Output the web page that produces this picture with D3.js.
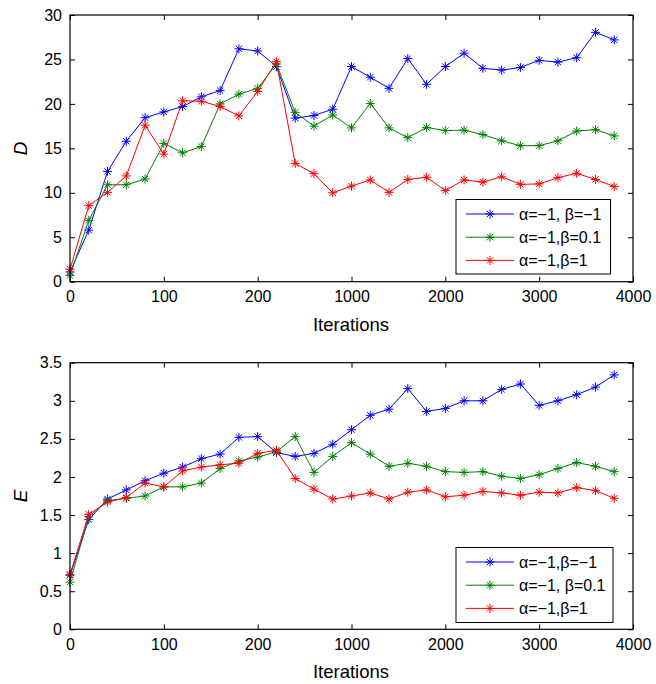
<!DOCTYPE html>
<html>
<head>
<meta charset="utf-8">
<script src="https://cdn.jsdelivr.net/npm/d3@7"></script>
<style>
  body { margin: 0; background: #fff; }
  svg text { font-family: "Liberation Sans", Arial, sans-serif; fill: #000; }
</style>
</head>
<body>
<svg id="chart" width="656" height="684"></svg>
<script>
// x positions are sample indices; tick labels come from the original figure
const xTickIdx = [0, 5, 10, 15, 20, 25, 30]
const xTickLabels = ["0", "100", "200", "1000", "2000", "3000", "4000"]

const colors = ["#0000ff", "#008000", "#ff0000"]

// panel D
const dBlue = [1.1, 5.8, 12.4, 15.8, 18.45, 19.1, 19.7, 20.8, 21.5, 26.2, 25.95, 24.2, 18.4, 18.7, 19.4,
  24.2, 23.0, 21.75, 25.1, 22.2, 24.2, 25.7, 24.0, 23.8, 24.1, 24.9, 24.7, 25.2, 28.05, 27.2]
const dGreen = [0.7, 6.9, 10.9, 10.9, 11.55, 15.55, 14.5, 15.2, 20.0, 21.1, 21.75, 24.5, 19.05, 17.5, 18.75,
  17.3, 20.05, 17.3, 16.2, 17.35, 17.0, 17.05, 16.55, 15.85, 15.3, 15.3, 15.85, 16.95, 17.1, 16.4]
const dRed = [1.4, 8.55, 10.05, 11.9, 17.6, 14.35, 20.35, 20.3, 19.7, 18.65, 21.4, 24.75, 13.3, 12.15, 10.0,
  10.75, 11.45, 10.05, 11.5, 11.75, 10.25, 11.45, 11.2, 11.8, 10.95, 11.0, 11.7, 12.2, 11.5, 10.7]
const dLegend = ["α=−1, β=−1", "α=−1,β=0.1", "α=−1,β=1"]
const dTicks = [0, 5, 10, 15, 20, 25, 30]

// panel E
const eBlue = [0.71, 1.44, 1.71, 1.83, 1.95, 2.05, 2.13, 2.24, 2.30, 2.52, 2.53, 2.32, 2.27, 2.31, 2.43,
  2.62, 2.81, 2.89, 3.16, 2.86, 2.90, 3.0, 3.0, 3.15, 3.22, 2.94, 3.0, 3.08, 3.18, 3.34]
const eGreen = [0.62, 1.48, 1.69, 1.72, 1.75, 1.87, 1.87, 1.92, 2.11, 2.21, 2.26, 2.33, 2.53, 2.06, 2.27,
  2.45, 2.30, 2.14, 2.18, 2.14, 2.07, 2.06, 2.07, 2.01, 1.98, 2.03, 2.11, 2.19, 2.14, 2.07]
const eRed = [0.72, 1.51, 1.67, 1.73, 1.92, 1.87, 2.08, 2.13, 2.16, 2.18, 2.31, 2.35, 1.98, 1.84, 1.71,
  1.75, 1.79, 1.71, 1.80, 1.83, 1.74, 1.76, 1.81, 1.79, 1.76, 1.80, 1.79, 1.86, 1.82, 1.72]
const eLegend = ["α=−1,β=−1", "α=−1, β=0.1", "α=−1,β=1"]
const eTicks = [0, 0.5, 1, 1.5, 2, 2.5, 3, 3.5]

const svg = d3.select("#chart")

// matlab style '*' marker
const star = (r) => `M${-r},0H${r}M0,${-r}V${r}M${-r * 0.7},${-r * 0.7}L${r * 0.7},${r * 0.7}M${-r * 0.7},${r * 0.7}L${r * 0.7},${-r * 0.7}`

function drawPanel({ top, bottom, yMax, yTicks, yLabel, series, legend, legendBox }) {
  const left = 70, right = 633
  const x = d3.scaleLinear().domain([0, 30]).range([left, right])
  const y = d3.scaleLinear().domain([0, yMax]).range([bottom, top])
  const g = svg.append("g")
  const tl = 5

  // ticks inside, on all four sides
  const xAxB = d3.axisBottom(x).tickValues(xTickIdx).tickSizeInner(-tl).tickSizeOuter(0)
    .tickPadding(9).tickFormat((d, i) => xTickLabels[i])
  const xAxT = d3.axisTop(x).tickValues(xTickIdx).tickSizeInner(-tl).tickSizeOuter(0).tickFormat("")
  const yAxL = d3.axisLeft(y).tickValues(yTicks).tickSizeInner(-tl).tickSizeOuter(0)
    .tickPadding(8).tickFormat(d3.format("~g"))
  const yAxR = d3.axisRight(y).tickValues(yTicks).tickSizeInner(-tl).tickSizeOuter(0).tickFormat("")

  const axes = [
    [xAxB, `translate(0,${bottom})`],
    [xAxT, `translate(0,${top})`],
    [yAxL, `translate(${left},0)`],
    [yAxR, `translate(${right},0)`],
  ]
  axes.forEach(([ax, tr]) => {
    const a = g.append("g").attr("transform", tr).call(ax)
    a.select(".domain").remove()
    a.selectAll("line").attr("stroke", "#000")
    a.selectAll("text").attr("font-size", 16).attr("fill", "#000")
  })

  const line = d3.line().x((d, i) => x(i)).y(d => y(d))
  series.forEach((vals, k) => {
    g.append("path").attr("d", line(vals)).attr("fill", "none")
      .attr("stroke", colors[k]).attr("stroke-width", 1)
    g.selectAll(`path.m${k}`).data(vals).join("path")
      .attr("class", `m${k}`)
      .attr("transform", (d, i) => `translate(${x(i)},${y(d)})`)
      .attr("d", star(4.5))
      .attr("stroke", colors[k]).attr("stroke-width", 1).attr("fill", "none")
  })

  g.append("rect").attr("x", left).attr("y", top).attr("width", right - left).attr("height", bottom - top)
    .attr("fill", "none").attr("stroke", "#000").attr("stroke-width", 1.2)

  g.append("text").attr("x", 351).attr("y", bottom + 49)
    .attr("text-anchor", "middle").attr("font-size", 18.5).text("Iterations")
  g.append("text").attr("transform", `translate(27,${(top + bottom) / 2}) rotate(-90)`)
    .attr("text-anchor", "middle").attr("font-size", 19).attr("font-style", "italic").text(yLabel)

  // legend
  const lg = g.append("g")
  lg.append("rect").attr("x", legendBox.x).attr("y", legendBox.y).attr("width", legendBox.w).attr("height", legendBox.h)
    .attr("fill", "#fff").attr("stroke", "#000").attr("stroke-width", 1)
  legend.forEach((txt, k) => {
    const ry = legendBox.y + 14.5 + k * 23.2
    lg.append("line").attr("x1", legendBox.x + 10).attr("x2", legendBox.x + 58)
      .attr("y1", ry).attr("y2", ry).attr("stroke", colors[k])
    lg.append("path").attr("transform", `translate(${legendBox.x + 34},${ry})`).attr("d", star(4.5))
      .attr("stroke", colors[k]).attr("fill", "none")
    lg.append("text").attr("x", legendBox.x + 63).attr("y", ry + 5.5).attr("font-size", 16).text(txt)
  })
}

drawPanel({
  top: 15, bottom: 281.7, yMax: 30, yTicks: dTicks, yLabel: "D",
  series: [dBlue, dGreen, dRed], legend: dLegend,
  legendBox: { x: 456, y: 199.5, w: 154.5, h: 74.5 },
})

drawPanel({
  top: 362.7, bottom: 629.3, yMax: 3.5, yTicks: eTicks, yLabel: "E",
  series: [eBlue, eGreen, eRed], legend: eLegend,
  legendBox: { x: 456, y: 547.5, w: 157, h: 75 },
})
</script>
</body>
</html>
